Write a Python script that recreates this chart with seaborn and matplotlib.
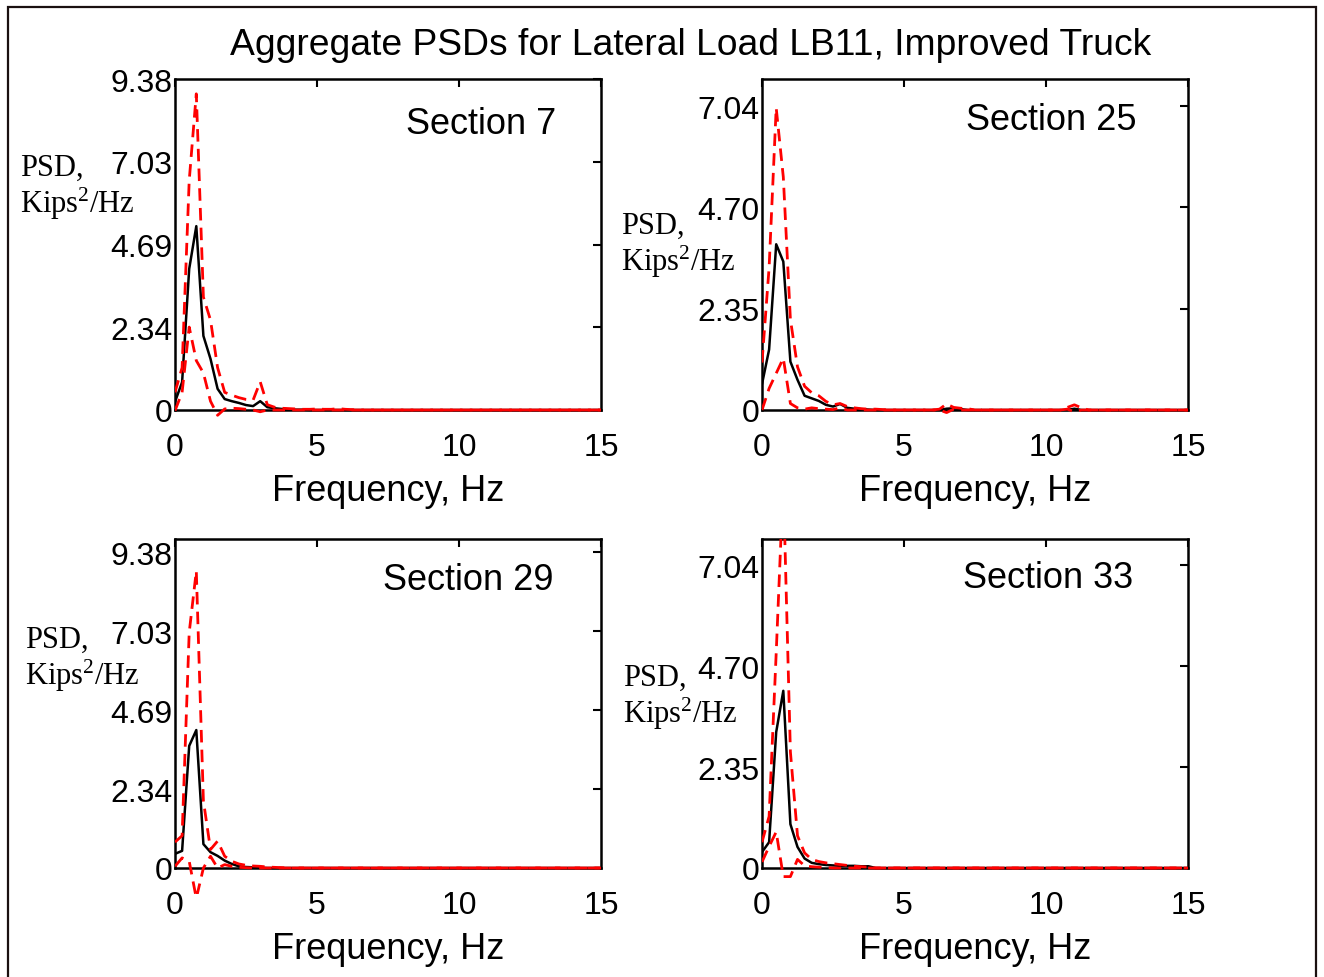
import numpy as np
import pandas as pd
import matplotlib
matplotlib.use("Agg")
import matplotlib.pyplot as plt
from matplotlib.patches import Rectangle
from matplotlib.ticker import FixedLocator, FixedFormatter
import seaborn as sns

sns.set_style("white")
plt.rcParams["font.family"] = ["Liberation Sans", "DejaVu Sans"]
plt.rcParams.update({
    "text.color": "black",
    "axes.labelcolor": "black",
    "xtick.color": "black",
    "ytick.color": "black",
    "mathtext.fontset": "custom",
    "mathtext.rm": "Liberation Serif",
    "mathtext.it": "Liberation Serif:italic",
    "mathtext.bf": "Liberation Serif:bold",
})

TITLE = "Aggregate PSDs for Lateral Load LB11, Improved Truck"
sections = ["Section 7", "Section 25", "Section 29", "Section 33"]

# frequency bins, Hz
freq = np.arange(0, 15.001, 0.25)

# Section 7: mean PSD and upper / lower envelope (Kips^2/Hz)
s7_mean = [0.23, 0.79, 4.00, 5.21, 2.10, 1.45, 0.60, 0.31, 0.25, 0.20,
           0.14, 0.11, 0.25, 0.08, 0.05, 0.03, 0.02, 0.01, 0.01, 0.00,
           0, 0, 0, 0, 0, 0, 0, 0, 0, 0, 0, 0, 0, 0, 0, 0, 0, 0, 0, 0,
           0, 0, 0, 0, 0, 0, 0, 0, 0, 0, 0, 0, 0, 0, 0, 0, 0, 0, 0, 0, 0]
s7_upper = [0.50, 1.20, 6.50, 8.96, 3.20, 2.55, 1.20, 0.50, 0.42, 0.35,
            0.30, 0.28, 0.80, 0.15, 0.08, 0.05, 0.04, 0.03, 0.02, 0.02,
            0.03, 0.02, 0.02, 0.04, 0.02, 0.01, 0, 0, 0, 0, 0, 0, 0, 0, 0, 0, 0, 0, 0, 0,
            0, 0, 0, 0, 0, 0, 0, 0, 0, 0, 0, 0, 0, 0, 0, 0, 0, 0, 0, 0, 0]
s7_lower = [-0.02, 0.50, 2.35, 1.40, 1.05, 0.25, -0.15, 0.03, 0.05, 0.04,
            0.02, 0.00, -0.05, 0.00, 0, 0, 0, 0, 0, 0,
            0, 0, 0, 0, 0, 0, 0, 0, 0, 0, 0, 0, 0, 0, 0, 0, 0, 0, 0, 0,
            0, 0, 0, 0, 0, 0, 0, 0, 0, 0, 0, 0, 0, 0, 0, 0, 0, 0, 0, 0, 0]

# Section 25
s25_mean = [0.60, 1.40, 3.84, 3.44, 1.12, 0.70, 0.33, 0.27, 0.21, 0.12,
            0.08, 0.14, 0.05, 0.03, 0.02, 0.01, 0, 0, 0, 0,
            0, 0, 0, 0, 0, 0, 0.03, 0.04, 0.02, 0, 0, 0, 0, 0, 0, 0, 0, 0, 0, 0,
            0, 0, 0, 0, 0.03, 0, 0, 0, 0, 0, 0, 0, 0, 0, 0, 0, 0, 0, 0, 0, 0]
s25_upper = [1.10, 3.30, 7.00, 5.40, 2.10, 1.00, 0.55, 0.40, 0.33, 0.20,
             0.12, 0.15, 0.08, 0.05, 0.03, 0.02, 0.02, 0.01, 0, 0,
             0, 0, 0, 0, 0, 0.02, 0.14, 0.06, 0.04, 0.03, 0, 0, 0, 0, 0, 0, 0, 0, 0, 0,
             0, 0, 0, 0.06, 0.12, 0.05, 0, 0, 0, 0, 0, 0, 0, 0, 0, 0, 0, 0, 0, 0, 0]
s25_lower = [0.00, 0.50, 0.85, 1.20, 0.15, 0.05, 0.02, 0.05, 0.03, 0.02,
             0.01, 0.05, 0, 0, 0, 0, 0, 0, 0, 0,
             0, 0, 0, 0, 0, 0, -0.06, 0.02, 0, 0, 0, 0, 0, 0, 0, 0, 0, 0, 0, 0,
             0, 0, 0, 0.02, -0.04, 0, 0, 0, 0, 0, 0, 0, 0, 0, 0, 0, 0, 0, 0, 0, 0]

# Section 29
s29_mean = [0.42, 0.51, 3.63, 4.10, 0.71, 0.47, 0.36, 0.22, 0.12, 0.05,
            0.03, 0.02, 0.01, 0, 0, 0, 0, 0, 0, 0,
            0, 0, 0, 0, 0, 0, 0, 0, 0, 0, 0, 0, 0, 0, 0, 0, 0, 0, 0, 0,
            0, 0, 0, 0, 0, 0, 0, 0, 0, 0, 0, 0, 0, 0, 0, 0, 0, 0, 0, 0, 0]
s29_upper = [0.77, 0.96, 7.00, 8.83, 2.00, 0.55, 0.80, 0.35, 0.20, 0.12,
             0.08, 0.06, 0.05, 0.03, 0.02, 0.01, 0, 0, 0, 0,
             0, 0, 0, 0, 0, 0, 0, 0, 0, 0, 0, 0, 0, 0, 0, 0, 0, 0, 0, 0,
             0, 0, 0, 0, 0, 0, 0, 0, 0, 0, 0, 0, 0, 0, 0, 0, 0, 0, 0, 0, 0]
s29_lower = [0.05, 0.30, 0.20, -0.90, 0.00, 0.35, 0.00, 0.10, 0.05, 0.02,
             0.01, 0, 0, 0, 0, 0, 0, 0, 0, 0,
             0, 0, 0, 0, 0, 0, 0, 0, 0, 0, 0, 0, 0, 0, 0, 0, 0, 0, 0, 0,
             0, 0, 0, 0, 0, 0, 0, 0, 0, 0, 0, 0, 0, 0, 0, 0, 0, 0, 0, 0, 0]

# Section 33
s33_mean = [0.37, 0.60, 3.16, 4.12, 1.02, 0.49, 0.22, 0.12, 0.09, 0.07,
            0.06, 0.05, 0.05, 0.05, 0.04, 0.04, 0, 0, 0, 0,
            0, 0, 0, 0, 0, 0, 0, 0, 0, 0, 0, 0, 0, 0, 0, 0, 0, 0, 0, 0,
            0, 0, 0, 0, 0, 0, 0, 0, 0, 0, 0, 0, 0, 0, 0, 0, 0, 0, 0, 0, 0]
s33_upper = [0.60, 1.20, 5.00, 9.00, 2.70, 0.75, 0.35, 0.20, 0.15, 0.12,
             0.10, 0.08, 0.06, 0.04, 0.03, 0.02, 0, 0, 0, 0,
             0, 0, 0, 0, 0, 0, 0, 0, 0, 0, 0, 0, 0, 0, 0, 0, 0, 0, 0, 0,
             0, 0, 0, 0, 0, 0, 0, 0, 0, 0, 0, 0, 0, 0, 0, 0, 0, 0, 0, 0, 0]
s33_lower = [0.14, 0.50, 0.84, -0.20, -0.20, 0.20, 0.05, 0.03, 0.02, 0.01,
             0, 0, 0, 0, 0, 0, 0, 0, 0, 0,
             0, 0, 0, 0, 0, 0, 0, 0, 0, 0, 0, 0, 0, 0, 0, 0, 0, 0, 0, 0,
             0, 0, 0, 0, 0, 0, 0, 0, 0, 0, 0, 0, 0, 0, 0, 0, 0, 0, 0, 0, 0]

# y-axis ticks and labels for each panel
left_ticks = [0, 2.345, 4.69, 7.035, 9.38]
left_labels = ["0", "2.34", "4.69", "7.03", "9.38"]
right_ticks = [0, 2.3467, 4.6933, 7.04]
right_labels = ["0", "2.35", "4.70", "7.04"]
x_ticks = [0, 5, 10, 15]
x_labels = ["0", "5", "10", "15"]
y_tops = [9.38, 7.67, 9.78, 7.65]

panels = [
    (s7_mean, s7_upper, s7_lower),
    (s25_mean, s25_upper, s25_lower),
    (s29_mean, s29_upper, s29_lower),
    (s33_mean, s33_upper, s33_lower),
]

W, H = 1324, 978
fig = plt.figure(figsize=(W / 100, H / 100), dpi=100)
fig.patch.set_facecolor("white")


def fx(px):
    return px / W


def fy(py):
    return 1 - py / H


# axes boxes in pixels: left, top, right, bottom
boxes = [(175, 80, 601, 411), (762, 80, 1188, 411),
         (175, 540, 601, 869), (762, 540, 1188, 869)]
# section caption anchors (axes fraction, left / baseline)
cap_pos = [(0.543, 0.838), (0.478, 0.849), (0.489, 0.849), (0.473, 0.855)]
# PSD label anchors (pixel x, baseline of first and second line)
psd_pos = [(20, 176, 213), (621, 234, 271), (25, 648, 685), (623, 686, 723)]
SERIF = ["Liberation Serif", "DejaVu Serif"]

for i, (box, (m, up, lo)) in enumerate(zip(boxes, panels)):
    l, t, r, b = box
    ax = fig.add_axes([fx(l), fy(b), fx(r - l), (b - t) / H])
    df = pd.DataFrame({"f": freq, "mean": m, "upper": up, "lower": lo})
    clip = Rectangle((0, -0.08), 1.0, 1.08, transform=ax.transAxes)
    sns.lineplot(data=df, x="f", y="mean", ax=ax, color="black", lw=1.8,
                 zorder=3)
    ax.lines[-1].set_clip_path(clip)
    for col in ("upper", "lower"):
        sns.lineplot(data=df, x="f", y=col, ax=ax, color="#ff0000", lw=2.0,
                     linestyle=(0, (4.5, 2.6)), zorder=4)
        ax.lines[-1].set_clip_path(clip)

    ax.set_xlim(0, 15)
    ax.set_ylim(0, y_tops[i])
    ax.xaxis.set_major_locator(FixedLocator(x_ticks))
    ax.xaxis.set_major_formatter(FixedFormatter(x_labels))
    yt, yl = (left_ticks, left_labels) if i % 2 == 0 else (right_ticks, right_labels)
    ax.yaxis.set_major_locator(FixedLocator(yt))
    ax.yaxis.set_major_formatter(FixedFormatter(yl))
    ax.tick_params(direction="in", length=6, width=1.5, top=True, right=True,
                   labelsize=23, colors="black")
    ax.tick_params(axis="x", pad=16)
    ax.tick_params(axis="y", pad=2)
    for sp in ax.spines.values():
        sp.set_visible(True)
        sp.set_linewidth(1.8)
        sp.set_color("black")
    ax.set_xlabel("Frequency, Hz", fontsize=26, labelpad=8)
    ax.set_ylabel("")
    ax.text(cap_pos[i][0], cap_pos[i][1], sections[i], transform=ax.transAxes,
            ha="left", va="baseline", fontsize=26)

    px, b1, b2 = psd_pos[i]
    fig.text(fx(px), fy(b1), "PSD,", ha="left", va="baseline", fontsize=22,
             family=SERIF)
    fig.text(fx(px), fy(b2), r"Kips$^{\mathrm{2}}$/Hz", ha="left",
             va="baseline", fontsize=22, family=SERIF)

fig.text(fx(691), fy(55), TITLE, ha="center", va="baseline", fontsize=26.8)

# outer frame
fig.patches.append(Rectangle((fx(8), fy(990)), fx(1316 - 8), (990 - 8) / H,
                             transform=fig.transFigure, fill=False,
                             edgecolor="#1a1010", lw=1.6))

fig.savefig("out.png", dpi=100, facecolor="white")
